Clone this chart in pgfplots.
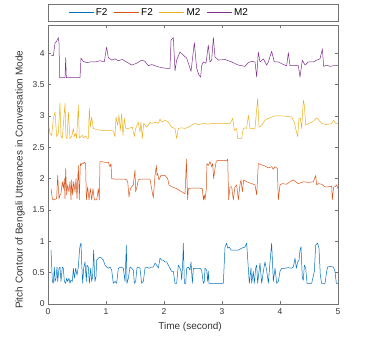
\documentclass[border=0pt]{standalone}
\usepackage{fontspec}
\setmainfont{Liberation Sans}
\usepackage{pgfplots}
\pgfplotsset{compat=1.18}

\definecolor{mblue}{rgb}{0,0.447,0.741}
\definecolor{morange}{rgb}{0.85,0.325,0.098}
\definecolor{myellow}{rgb}{0.929,0.694,0.125}
\definecolor{mpurple}{rgb}{0.494,0.184,0.556}
\definecolor{axgray}{gray}{0.45}

\begin{document}
\begin{tikzpicture}
\useasboundingbox (-48bp,-38bp) rectangle (326bp,304bp);
\begin{axis}[
    name=ax,
    scale only axis,
    width=290bp, height=279bp,
    xmin=0, xmax=5, ymin=0, ymax=4.45,
    xtick={0,1,2,3,4,5},
    ytick={0,0.5,1,1.5,2,2.5,3,3.5,4},
    tick align=inside, major tick length=3bp,
    axis line style={axgray, line width=0.5bp},
    every tick/.style={axgray, line width=0.5bp},
    /pgf/number format/assume math mode=true,
    tick label style={font=\fontsize{8.5}{10}\selectfont, text=black!80},
    xticklabel style={yshift=-1bp},
    label style={font=\fontsize{10}{12}\selectfont, text=black!80},
    xlabel={Time (second)},
    ylabel={Pitch Contour of Bengali Utterances in Conversation Mode},
    xlabel style={at={(axis description cs:0.49,-0.082)}, anchor=center},
    ylabel style={at={(axis description cs:-0.0966,0.445)}, anchor=center},
    legend columns=4,
    legend style={draw=none, fill=none, at={(0,1)}, anchor=west, xshift=20bp, yshift=12.5bp,
        inner sep=0pt, font=\fontsize{10}{12}\selectfont,
        /tikz/every even column/.append style={column sep=4bp}},
    legend image code/.code={\draw[#1, line width=0.7bp] (0bp,0bp) -- (25bp,0bp);},
    every axis plot/.append style={line width=0.5bp, line join=round},
]
\addplot[mblue] coordinates {
(0.052,0.86)(0.075,0.36)(0.092,0.33)(0.109,0.59)(0.121,0.36)(0.138,0.41)(0.155,0.59)(0.167,0.36)
(0.190,0.57)(0.207,0.59)(0.224,0.36)(0.247,0.59)(0.264,0.57)(0.282,0.36)(0.305,0.33)(0.322,0.41)
(0.339,0.36)(0.362,0.41)(0.379,0.33)(0.397,0.38)(0.420,0.36)(0.437,0.57)(0.454,0.41)(0.477,0.57)
(0.500,0.46)(0.523,0.59)(0.546,0.89)(0.557,0.94)(0.569,0.97)(0.580,0.67)(0.598,0.33)(0.615,0.57)
(0.638,0.67)(0.661,0.36)(0.672,0.62)(0.695,0.59)(0.713,0.33)(0.736,0.57)(0.753,0.36)(0.770,0.44)
(0.787,0.86)(0.799,0.57)(0.810,0.36)(0.828,0.44)(0.839,0.70)(0.868,0.73)(0.897,0.75)(0.925,0.73)
(0.954,0.70)(0.983,0.62)(1.011,0.59)(1.040,0.57)(1.069,0.59)(1.098,0.54)(1.126,0.33)(1.155,0.36)
(1.184,0.33)(1.213,0.57)(1.259,0.59)(1.299,0.57)(1.328,0.36)(1.351,0.94)(1.362,0.33)(1.385,0.41)
(1.414,0.59)(1.443,0.57)(1.471,0.54)(1.489,0.33)(1.511,0.36)(1.534,0.57)(1.557,0.59)(1.586,0.57)
(1.615,0.33)(1.644,0.36)(1.672,0.57)(1.701,0.59)(1.741,0.57)(1.787,0.59)(1.816,0.59)(1.845,0.65)
(1.874,0.62)(1.902,0.57)(1.931,0.73)(1.960,0.70)(1.989,0.70)(2.017,0.67)(2.046,0.67)(2.075,0.62)
(2.103,0.57)(2.132,0.52)(2.161,0.52)(2.190,0.33)(2.218,0.33)(2.247,0.62)(2.276,0.57)(2.293,0.52)
(2.305,0.38)(2.322,0.65)(2.333,0.97)(2.351,0.33)(2.374,0.33)(2.391,0.57)(2.420,0.59)(2.448,0.54)
(2.466,0.67)(2.489,0.33)(2.506,0.57)(2.534,0.57)(2.621,0.57)(2.649,0.54)(2.678,0.33)(2.695,0.36)
(2.707,0.57)(2.736,0.54)(2.753,0.36)(2.764,0.52)(2.776,0.33)(2.822,0.33)(2.937,0.33)(3.023,0.33)
(3.052,0.91)(3.080,0.97)(3.098,0.89)(3.126,0.91)(3.155,0.86)(3.195,0.86)(3.282,0.86)(3.339,0.89)
(3.397,0.91)(3.425,0.97)(3.454,0.57)(3.471,0.33)(3.500,0.57)(3.511,0.33)(3.540,0.52)(3.557,0.33)
(3.580,0.57)(3.598,0.62)(3.615,0.33)(3.638,0.52)(3.655,0.65)(3.684,0.33)(3.713,0.52)(3.741,0.67)
(3.770,0.54)(3.799,0.33)(3.828,0.67)(3.856,0.97)(3.885,0.36)(3.914,0.57)(3.943,0.33)(3.971,0.36)
(4.000,0.52)(4.029,0.57)(4.086,0.57)(4.144,0.58)(4.201,0.57)(4.230,0.59)(4.259,0.73)(4.282,0.57)
(4.305,0.67)(4.328,0.70)(4.345,0.86)(4.362,0.91)(4.385,0.41)(4.402,0.38)(4.420,0.62)(4.443,0.57)
(4.466,0.33)(4.546,0.33)(4.592,0.52)(4.615,0.94)(4.649,0.97)(4.672,0.89)(4.695,0.46)(4.718,0.33)
(4.776,0.33)(4.805,0.52)(4.822,0.59)(4.862,0.60)(4.920,0.59)(4.948,0.52)(4.971,0.33)(5.000,0.33)
};
\addlegendentry{F2}
\addplot[morange] coordinates {
(0.052,1.84)(0.075,1.68)(0.092,1.66)(0.149,1.68)(0.167,2.05)(0.190,1.68)(0.207,1.74)(0.224,1.76)
(0.247,1.95)(0.264,1.84)(0.282,2.00)(0.293,1.68)(0.305,2.16)(0.322,1.74)(0.339,1.90)(0.362,1.79)
(0.379,1.95)(0.397,1.66)(0.408,1.98)(0.425,1.74)(0.443,1.95)(0.466,1.79)(0.483,2.00)(0.500,1.68)
(0.523,2.21)(0.540,1.66)(0.557,2.24)(0.569,2.21)(0.580,2.24)(0.609,2.24)(0.626,2.26)(0.649,2.24)
(0.661,1.66)(0.684,1.87)(0.707,1.66)(0.730,1.84)(0.753,1.66)(0.776,1.84)(0.799,1.66)(0.839,1.66)
(0.868,1.84)(0.885,1.66)(0.897,2.27)(0.925,2.27)(0.983,2.26)(1.040,2.26)(1.069,2.19)(1.086,2.24)
(1.098,2.00)(1.155,1.99)(1.241,1.99)(1.328,1.99)(1.356,1.98)(1.374,1.95)(1.397,1.71)(1.420,1.84)
(1.443,1.87)(1.471,1.90)(1.489,2.05)(1.500,2.13)(1.511,1.79)(1.534,1.87)(1.557,1.98)(1.586,1.99)
(1.672,1.99)(1.759,1.99)(1.787,1.84)(1.816,1.69)(1.845,2.05)(1.868,2.21)(1.879,2.05)(1.891,2.08)
(1.914,1.98)(1.948,2.05)(2.017,2.05)(2.063,2.00)(2.086,1.90)(2.132,1.87)(2.218,1.84)(2.305,1.79)
(2.362,1.76)(2.374,1.98)(2.385,2.31)(2.408,1.66)(2.420,1.84)(2.477,1.85)(2.592,1.85)(2.661,1.84)
(2.678,1.66)(2.695,1.74)(2.707,1.66)(2.730,1.84)(2.741,2.24)(2.764,2.21)(2.793,2.27)(2.822,2.19)
(2.839,2.24)(2.856,2.00)(2.879,2.16)(2.902,2.28)(2.937,2.29)(3.023,2.29)(3.080,2.29)(3.098,2.31)
(3.115,1.66)(3.138,1.87)(3.167,1.87)(3.195,1.66)(3.224,1.87)(3.253,1.90)(3.282,1.66)(3.310,1.90)
(3.328,1.98)(3.351,1.79)(3.374,1.98)(3.425,1.95)(3.511,1.92)(3.569,1.90)(3.598,1.74)(3.626,2.24)
(3.684,2.22)(3.741,2.20)(3.799,2.17)(3.856,2.19)(3.885,2.15)(3.914,2.19)(3.954,2.16)(3.971,1.66)
(4.000,1.90)(4.040,1.92)(4.115,1.91)(4.172,1.95)(4.230,1.98)(4.270,1.95)(4.316,1.92)(4.402,1.95)
(4.489,1.94)(4.575,1.95)(4.615,2.05)(4.632,1.90)(4.661,1.92)(4.718,1.91)(4.776,1.87)(4.833,1.87)
(4.891,1.88)(4.902,1.66)(4.925,1.87)(4.948,1.87)(4.977,1.90)(5.000,1.84)
};
\addlegendentry{F2}
\addplot[myellow] coordinates {
(0.017,2.82)(0.034,2.72)(0.063,2.69)(0.092,2.96)(0.121,3.06)(0.149,2.67)(0.178,2.72)(0.207,3.20)
(0.224,2.69)(0.247,2.64)(0.264,2.85)(0.293,3.20)(0.310,2.67)(0.328,2.64)(0.351,3.06)(0.379,2.64)
(0.408,2.67)(0.437,2.80)(0.454,2.67)(0.477,2.72)(0.494,2.64)(0.523,3.17)(0.540,2.65)(0.569,2.67)
(0.592,2.69)(0.615,2.65)(0.649,2.68)(0.678,2.64)(0.695,2.64)(0.713,3.12)(0.730,2.82)(0.753,2.98)
(0.782,2.80)(0.839,2.78)(0.925,2.77)(1.040,2.77)(1.126,2.76)(1.155,2.67)(1.172,2.98)(1.201,2.85)
(1.224,3.01)(1.247,2.77)(1.270,3.04)(1.293,2.69)(1.316,2.96)(1.339,2.80)(1.385,2.80)(1.454,2.82)
(1.489,2.67)(1.511,2.80)(1.557,2.90)(1.586,2.74)(1.603,2.90)(1.626,2.64)(1.649,2.88)(1.701,2.82)
(1.759,2.90)(1.787,2.88)(1.845,2.90)(1.902,2.88)(1.931,2.95)(1.960,2.90)(2.017,2.93)(2.075,2.90)
(2.132,2.82)(2.190,2.80)(2.218,2.64)(2.247,2.80)(2.305,2.81)(2.362,2.80)(2.420,2.82)(2.477,2.85)
(2.534,2.88)(2.592,2.86)(2.678,2.88)(2.764,2.87)(2.851,2.88)(2.937,2.88)(3.052,2.88)(3.138,2.88)
(3.184,2.96)(3.213,2.77)(3.253,2.80)(3.270,2.64)(3.339,2.64)(3.368,2.80)(3.397,2.81)(3.425,2.80)
(3.454,3.01)(3.483,2.80)(3.511,2.80)(3.569,2.80)(3.615,3.28)(3.638,2.82)(3.684,2.85)(3.741,2.93)
(3.799,2.96)(3.856,2.98)(3.914,3.00)(4.029,3.00)(4.144,2.99)(4.201,2.98)(4.247,2.90)(4.270,2.80)
(4.305,2.67)(4.328,2.96)(4.351,2.96)(4.374,2.80)(4.402,3.25)(4.420,3.17)(4.443,2.85)(4.489,2.88)
(4.546,2.90)(4.592,2.93)(4.632,2.97)(4.672,2.93)(4.718,2.88)(4.805,2.86)(4.891,2.88)(4.925,2.93)
(4.960,2.88)(5.000,2.88)
};
\addlegendentry{M2}
\addplot[mpurple] coordinates {
(0.052,3.97)(0.092,3.96)(0.121,4.16)(0.149,4.19)(0.178,4.25)(0.190,4.16)(0.201,3.61)(0.293,3.61)
(0.305,3.93)(0.316,3.61)(0.552,3.61)(0.569,3.92)(0.609,3.87)(0.667,3.85)(0.724,3.86)(0.810,3.86)
(0.897,3.88)(0.971,3.86)(1.011,4.10)(1.040,3.93)(1.098,3.89)(1.155,3.91)(1.213,3.88)(1.282,3.90)
(1.356,3.86)(1.443,3.81)(1.529,3.84)(1.615,3.89)(1.672,3.87)(1.730,3.80)(1.787,3.82)(1.874,3.79)
(1.960,3.77)(2.029,3.76)(2.103,3.76)(2.121,4.21)(2.161,4.25)(2.190,3.72)(2.218,3.89)(2.276,4.02)
(2.333,3.97)(2.391,3.92)(2.431,3.81)(2.466,3.71)(2.523,4.17)(2.563,3.76)(2.603,3.65)(2.632,3.62)
(2.649,3.80)(2.678,3.86)(2.724,3.84)(2.764,4.13)(2.793,3.86)(2.822,3.89)(2.851,4.25)(2.879,3.94)
(2.937,3.89)(3.052,3.90)(3.167,3.86)(3.282,3.81)(3.397,3.79)(3.454,3.85)(3.511,3.87)(3.569,3.86)
(3.598,3.62)(3.626,4.02)(3.655,3.86)(3.713,3.91)(3.770,3.81)(3.799,3.86)(3.856,4.03)(3.902,3.86)
(3.971,3.86)(4.057,3.82)(4.115,3.80)(4.144,4.01)(4.172,3.80)(4.316,3.80)(4.345,3.62)(4.385,3.89)
(4.431,3.81)(4.489,3.86)(4.575,3.86)(4.632,3.89)(4.690,3.91)(4.730,4.07)(4.753,3.79)(4.805,3.81)
(4.862,3.79)(4.920,3.80)(5.000,3.80)
};
\addlegendentry{M2}
\end{axis}
\draw[axgray, line width=0.5bp] ([yshift=4bp]ax.north west) rectangle ([yshift=21bp]ax.north east);
\end{tikzpicture}
\end{document}
